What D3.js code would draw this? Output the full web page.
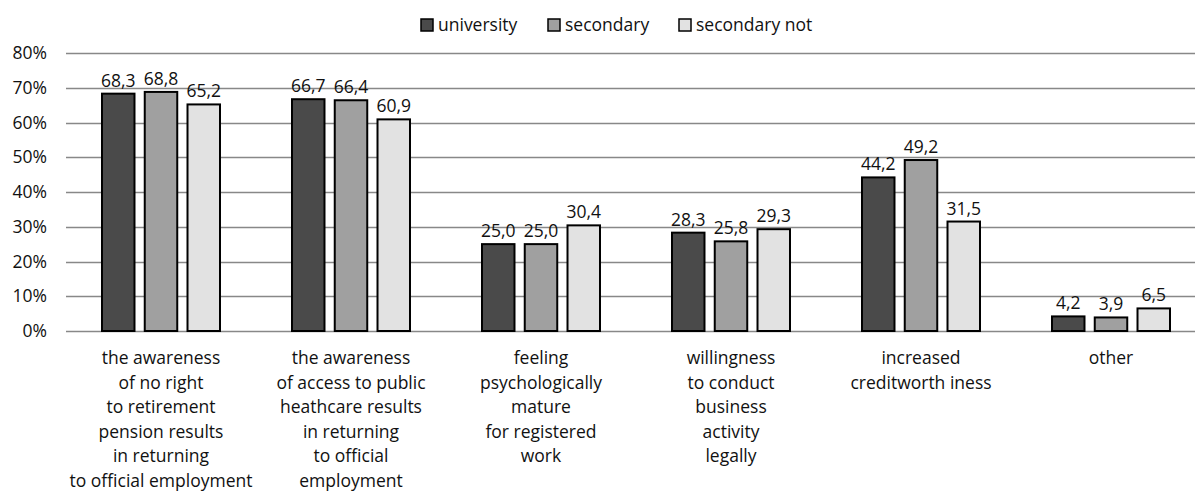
<!DOCTYPE html>
<html>
<head>
<meta charset="utf-8">
<script src="https://cdn.jsdelivr.net/npm/d3@7"></script>
<style>
  body { margin: 0; background: #fff; }
  text { font-family: "Open Sans", sans-serif; fill: #111; }
</style>
</head>
<body>
<svg width="1195" height="494"></svg>
<script>
// data
var categories = [
  ["the awareness", "of no right", "to retirement", "pension results", "in returning", "to official employment"],
  ["the awareness", "of access to public", "heathcare results", "in returning", "to official", "employment"],
  ["feeling", "psychologically", "mature", "for registered", "work"],
  ["willingness", "to conduct", "business", "activity", "legally"],
  ["increased", "creditworth iness"],
  ["other"]
]
var series = ["university", "secondary", "secondary not"]
var university = [68.3, 66.7, 25.0, 28.3, 44.2, 4.2]
var secondary = [68.8, 66.4, 25.0, 25.8, 49.2, 3.9]
var secondaryNot = [65.2, 60.9, 30.4, 29.3, 31.5, 6.5]
var yTicks = [0, 10, 20, 30, 40, 50, 60, 70, 80]
var colors = ["#4a4a4a", "#a0a0a0", "#e2e2e2"]

var values = [university, secondary, secondaryNot]
var svg = d3.select("svg")
var fs = "17.5px"

var x = d3.scaleBand()
  .domain(d3.range(categories.length))
  .range([66, 1206])
  .paddingInner(0)
  .paddingOuter(0)

var xInner = d3.scaleBand()
  .domain(d3.range(series.length))
  .range([x.bandwidth() / 2 - 59, x.bandwidth() / 2 + 59])
  .paddingInner(0.24)

var y = d3.scaleLinear()
  .domain([0, 80])
  .range([331, 53])

// gridlines
svg.append("g")
  .selectAll("line")
  .data(yTicks)
  .enter()
  .append("line")
  .attr("x1", 66)
  .attr("x2", 1195)
  .attr("y1", function(d){ return Math.round(y(d)) + 0.5 })
  .attr("y2", function(d){ return Math.round(y(d)) + 0.5 })
  .attr("stroke", "#888")
  .attr("stroke-width", 1.3)

// y axis labels
svg.append("g")
  .selectAll("text")
  .data(yTicks)
  .enter()
  .append("text")
  .attr("x", 47)
  .attr("y", function(d){ return y(d) + 6 })
  .attr("text-anchor", "end")
  .attr("font-size", fs)
  .text(function(d){ return d + "%" })

// bars
var groups = svg.append("g")
  .selectAll("g")
  .data(categories)
  .enter()
  .append("g")
  .attr("transform", function(d, i){ return "translate(" + x(i) + ",0)" })

groups.each(function(d, i){
  var g = d3.select(this)
  var vals = values.map(function(s){ return s[i] })

  g.selectAll("rect")
    .data(vals)
    .enter()
    .append("rect")
    .attr("x", function(v, j){ return xInner(j) })
    .attr("y", function(v){ return y(v) })
    .attr("width", xInner.bandwidth())
    .attr("height", function(v){ return y(0) - y(v) })
    .attr("fill", function(v, j){ return colors[j] })
    .attr("stroke", "#000")
    .attr("stroke-width", 2)

  g.selectAll(".val")
    .data(vals)
    .enter()
    .append("text")
    .attr("class", "val")
    .attr("x", function(v, j){ return xInner(j) + xInner.bandwidth() / 2 })
    .attr("y", function(v){ return y(v) - 7 })
    .attr("text-anchor", "middle")
    .attr("font-size", fs)
    .text(function(v){ return v.toFixed(1).replace(".", ",") })

  g.selectAll(".cat")
    .data(d)
    .enter()
    .append("text")
    .attr("class", "cat")
    .attr("x", x.bandwidth() / 2)
    .attr("y", function(line, k){ return 364 + k * 24.6 })
    .attr("text-anchor", "middle")
    .attr("font-size", fs)
    .text(function(line){ return line })
})

// legend
var legendX = [421, 548, 679]
var legend = svg.append("g")
  .selectAll("g")
  .data(series)
  .enter()
  .append("g")
  .attr("transform", function(d, i){ return "translate(" + legendX[i] + ",0)" })

legend.append("rect")
  .attr("x", 0)
  .attr("y", 19)
  .attr("width", 12)
  .attr("height", 12)
  .attr("fill", function(d, i){ return colors[i] })
  .attr("stroke", "#000")
  .attr("stroke-width", 1.5)

legend.append("text")
  .attr("x", 17)
  .attr("y", 31)
  .attr("font-size", fs)
  .text(function(d){ return d })
</script>
</body>
</html>
